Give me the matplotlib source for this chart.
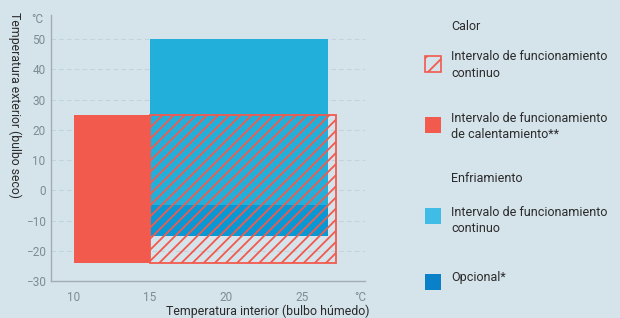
import matplotlib.pyplot as plt
from matplotlib.patches import Rectangle
import matplotlib as mpl

plt.rcParams['font.family'] = ['Roboto', 'DejaVu Sans']
mpl.rcParams['hatch.linewidth'] = 1.3

# zonas de funcionamiento (x: interior bulbo humedo, y: exterior bulbo seco)
calor_cal_x = (10, 15)
calor_cal_y = (-24, 25)
calor_cont_x = (15, 27.2)
calor_cont_y = (-24, 25)
frio_cont_x = (15, 26.7)
frio_cont_y = (-15, 50)
frio_opc_x = (15, 26.7)
frio_opc_y = (-15, -5)

xticks = [10, 15, 20, 25]
yticks = [50, 40, 30, 20, 10, 0, -10, -20, -30]

leyenda_titulos = ['Calor', 'Enfriamiento']
leyenda_textos = ['Intervalo de funcionamiento\ncontinuo',
                  'Intervalo de funcionamiento\nde calentamiento**',
                  'Intervalo de funcionamiento\ncontinuo',
                  'Opcional*']

rojo = '#f25a4e'
azul = '#22b0db'
azul_osc = '#0898d4'
fondo = '#d5e3ea'
gris = '#7d8c94'

fig = plt.figure(figsize=(6.2, 3.18), dpi=100)
fig.patch.set_facecolor(fondo)
ax = fig.add_axes([0.0823, 0.1164, 0.506, 0.8365])
ax.set_facecolor('none')

ax.set_xlim(8.5, 29.1)
ax.set_ylim(-29.2, 58)

for y in yticks:
    if y > -30:
        ax.axhline(y, color='#c3d3db', lw=0.8, ls=(0, (4, 3)), zorder=0)


def rect(xr, yr, **kw):
    ax.add_patch(Rectangle((xr[0], yr[0]), xr[1] - xr[0], yr[1] - yr[0], **kw))


rect(frio_cont_x, frio_cont_y, facecolor=azul, edgecolor='none', zorder=1)
rect(frio_opc_x, frio_opc_y, facecolor=azul_osc, edgecolor='none', zorder=2)
rect(calor_cal_x, calor_cal_y, facecolor=rojo, edgecolor='none', zorder=2)
rect(calor_cont_x, calor_cont_y, facecolor='none', edgecolor=rojo, hatch='///',
     lw=1.3, zorder=3)

ax.set_xticks(xticks)
ax.set_yticks(yticks)
ax.tick_params(length=0, colors=gris, labelsize=8.5)
ax.tick_params(axis='x', pad=7)
ax.tick_params(axis='y', pad=4)
for s in ['top', 'right']:
    ax.spines[s].set_visible(False)
for s in ['left', 'bottom']:
    ax.spines[s].set_color('#a3adb2')
    ax.spines[s].set_linewidth(1.0)

ax.text(28.8, -33.2, '°C', color=gris, fontsize=8.5, ha='center', va='top',
        clip_on=False)
ax.text(7.6, 56.5, '°C', color=gris, fontsize=8.5, ha='center', va='center',
        clip_on=False)

fig.text(370 / 620, 1 - 311 / 318, 'Temperatura interior (bulbo húmedo)',
         ha='right', va='center', fontsize=8.9, color='#2b2b2b')
fig.text(15 / 620, 1 - 105 / 318, 'Temperatura exterior (bulbo seco)',
         ha='center', va='center', rotation=270, fontsize=8.8, color='#2b2b2b')

# leyenda
def fy(py):
    return 1 - py / 318


fig.text(451 / 620, fy(26), leyenda_titulos[0], fontsize=9, color='#2b2b2b',
         va='center')
fig.text(451 / 620, fy(179), leyenda_titulos[1], fontsize=9, color='#2b2b2b',
         va='center')

marcas = [
    dict(facecolor='none', edgecolor=rojo, hatch='//', lw=1.2),
    dict(facecolor=rojo, edgecolor='none'),
    dict(facecolor='#3fbde6', edgecolor='none'),
    dict(facecolor='#0a80c8', edgecolor='none'),
]
ys_marca = [64, 125, 216, 282]
ys_texto = [65, 127, 220, 277]
for i in range(4):
    cy = ys_marca[i]
    fig.patches.append(Rectangle((425 / 620, fy(cy + 8)), 16 / 620, 16 / 318,
                                 transform=fig.transFigure, **marcas[i]))
    fig.text(451 / 620, fy(ys_texto[i]), leyenda_textos[i], fontsize=9,
             color='#2b2b2b', va='center', linespacing=1.3)

fig.savefig('out.png', dpi=100, facecolor=fondo)
